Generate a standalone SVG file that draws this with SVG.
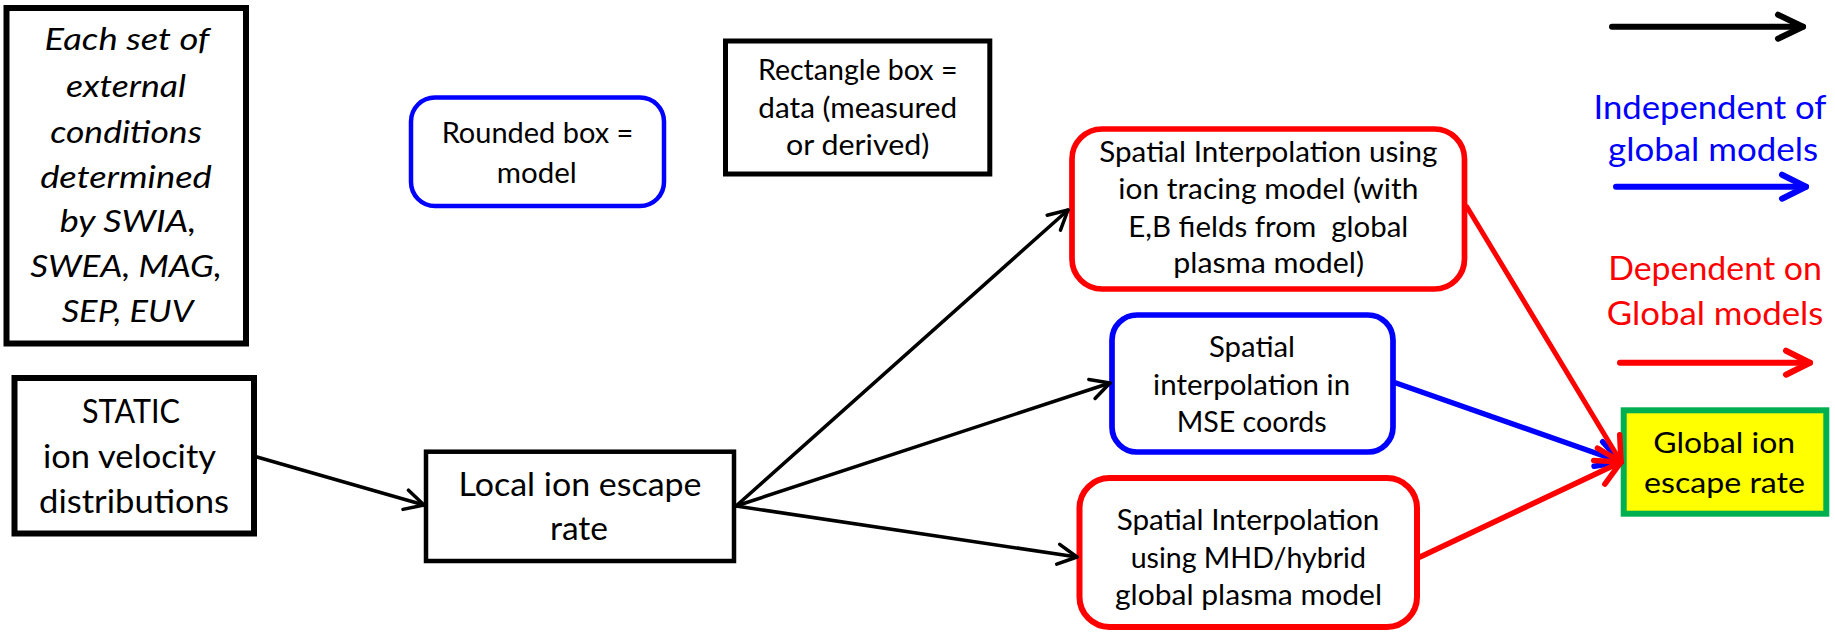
<svg xmlns="http://www.w3.org/2000/svg" width="1835" height="641" viewBox="0 0 1835 641">
<style>
  text { font-family: Lato, "Open Sans", "Liberation Sans", sans-serif; text-anchor: middle; fill: #000; }
  .t28 { font-size: 28px; }
  .t32 { font-size: 32px; }
  .it { font-size: 30px; font-style: italic; }
  .leg { font-size: 32px; }
  .data { fill: #fff; stroke: #000; }
  .conn { fill: none; stroke-linecap: round; }
</style>
<defs>
  <marker id="hk" markerUnits="userSpaceOnUse" orient="auto" refX="0" refY="0" markerWidth="40" markerHeight="40" overflow="visible">
    <path d="M-19,-10 L0,0 L-19,10" fill="none" stroke="#000" stroke-width="3.5" stroke-linecap="round" stroke-linejoin="round"/>
  </marker>
  <marker id="hr" markerUnits="userSpaceOnUse" orient="auto" refX="0" refY="0" markerWidth="40" markerHeight="40" overflow="visible">
    <path d="M-24,-13 L0,0 L-24,13" fill="none" stroke="#f00" stroke-width="5.5" stroke-linecap="round" stroke-linejoin="round"/>
  </marker>
  <marker id="hb" markerUnits="userSpaceOnUse" orient="auto" refX="0" refY="0" markerWidth="40" markerHeight="40" overflow="visible">
    <path d="M-24,-13 L0,0 L-24,13" fill="none" stroke="#00f" stroke-width="5.5" stroke-linecap="round" stroke-linejoin="round"/>
  </marker>
  <marker id="lk" markerUnits="userSpaceOnUse" orient="auto" refX="0" refY="0" markerWidth="40" markerHeight="40" overflow="visible">
    <path d="M-25,-12 L0,0 L-25,12" fill="none" stroke="#000" stroke-width="6" stroke-linecap="round" stroke-linejoin="round"/>
  </marker>
  <marker id="lb" markerUnits="userSpaceOnUse" orient="auto" refX="0" refY="0" markerWidth="40" markerHeight="40" overflow="visible">
    <path d="M-24,-12 L0,0 L-24,12" fill="none" stroke="#00f" stroke-width="6" stroke-linecap="round" stroke-linejoin="round"/>
  </marker>
  <marker id="lr" markerUnits="userSpaceOnUse" orient="auto" refX="0" refY="0" markerWidth="40" markerHeight="40" overflow="visible">
    <path d="M-24,-12 L0,0 L-24,12" fill="none" stroke="#f00" stroke-width="6" stroke-linecap="round" stroke-linejoin="round"/>
  </marker>
</defs>
<rect width="1835" height="641" fill="#fff"/>

<g id="conditions">
  <rect class="data" x="6.5" y="8" width="239.5" height="335.5" stroke-width="6"/>
  <text class="it" x="127" y="50" textLength="165" lengthAdjust="spacingAndGlyphs">Each set of</text>
  <text class="it" x="126" y="96.7" textLength="120" lengthAdjust="spacingAndGlyphs">external</text>
  <text class="it" x="126" y="143.3" textLength="151.7" lengthAdjust="spacingAndGlyphs">conditions</text>
  <text class="it" x="126" y="188.3" textLength="171.7" lengthAdjust="spacingAndGlyphs">determined</text>
  <text class="it" x="128" y="231.7" textLength="136.7" lengthAdjust="spacingAndGlyphs">by SWIA,</text>
  <text class="it" x="126" y="276.7" textLength="191.7" lengthAdjust="spacingAndGlyphs">SWEA, MAG,</text>
  <text class="it" x="127.5" y="321.7" textLength="131.7" lengthAdjust="spacingAndGlyphs">SEP, EUV</text>
</g>

<g id="legend-model">
  <rect x="411" y="97.5" width="253" height="108.5" rx="24" fill="#fff" stroke="#00f" stroke-width="4.5"/>
  <text class="t28" x="537.5" y="143.3" textLength="191.7" lengthAdjust="spacingAndGlyphs">Rounded box =</text>
  <text class="t28" x="536.7" y="182.7" textLength="80" lengthAdjust="spacingAndGlyphs">model</text>
</g>

<g id="legend-data">
  <rect class="data" x="725.5" y="41" width="264.3" height="133" stroke-width="5"/>
  <text class="t28" x="857.7" y="80" textLength="199.5" lengthAdjust="spacingAndGlyphs">Rectangle box =</text>
  <text class="t28" x="857.7" y="117.5" textLength="198.7" lengthAdjust="spacingAndGlyphs">data (measured</text>
  <text class="t28" x="857.7" y="155" textLength="143.3" lengthAdjust="spacingAndGlyphs">or derived)</text>
</g>

<g id="static">
  <rect class="data" x="14.5" y="378" width="239.5" height="155.5" stroke-width="6"/>
  <text class="t32" x="131" y="423.3" textLength="98" lengthAdjust="spacingAndGlyphs">STATIC</text>
  <text class="t32" x="129.5" y="468.3" textLength="173" lengthAdjust="spacingAndGlyphs">ion velocity</text>
  <text class="t32" x="134" y="513.3" textLength="190" lengthAdjust="spacingAndGlyphs">distributions</text>
</g>

<g id="local">
  <rect class="data" x="426" y="451.7" width="308" height="109.3" stroke-width="4.5"/>
  <text class="t32" x="580" y="496" textLength="243" lengthAdjust="spacingAndGlyphs">Local ion escape</text>
  <text class="t32" x="579" y="540" textLength="58" lengthAdjust="spacingAndGlyphs">rate</text>
</g>

<g id="ion-tracing">
  <rect x="1072" y="129" width="392.5" height="160" rx="30" fill="#fff" stroke="#f00" stroke-width="5.7"/>
  <text class="t28" x="1268.3" y="161.7" textLength="338" lengthAdjust="spacingAndGlyphs">Spatial Interpolation using</text>
  <text class="t28" x="1268.3" y="199.3" textLength="300" lengthAdjust="spacingAndGlyphs">ion tracing model (with</text>
  <text class="t28" x="1268.3" y="236.7" textLength="280" lengthAdjust="spacingAndGlyphs" xml:space="preserve">E,B fields from  global</text>
  <text class="t28" x="1268.7" y="273.3" textLength="190.7" lengthAdjust="spacingAndGlyphs">plasma model)</text>
</g>

<g id="mse">
  <rect x="1112" y="315" width="281" height="137" rx="25" fill="#fff" stroke="#00f" stroke-width="5.7"/>
  <text class="t28" x="1252" y="356.7" textLength="86" lengthAdjust="spacingAndGlyphs">Spatial</text>
  <text class="t28" x="1251.6" y="395" textLength="197" lengthAdjust="spacingAndGlyphs">interpolation in</text>
  <text class="t28" x="1251.7" y="431.7" textLength="150" lengthAdjust="spacingAndGlyphs">MSE coords</text>
</g>

<g id="mhd">
  <rect x="1079.5" y="478" width="337.5" height="149" rx="30" fill="#fff" stroke="#f00" stroke-width="6"/>
  <text class="t28" x="1248" y="530" textLength="262.7" lengthAdjust="spacingAndGlyphs">Spatial Interpolation</text>
  <text class="t28" x="1248.3" y="568.3" textLength="235.3" lengthAdjust="spacingAndGlyphs">using MHD/hybrid</text>
  <text class="t28" x="1248.5" y="605" textLength="267" lengthAdjust="spacingAndGlyphs">global plasma model</text>
</g>

<g id="global">
  <rect x="1623.7" y="410.3" width="202.6" height="103.4" fill="#ff0" stroke="#00b050" stroke-width="6"/>
  <text class="t28" x="1724.2" y="452.7" font-size="30" textLength="141.7" lengthAdjust="spacingAndGlyphs">Global ion</text>
  <text class="t28" x="1724.5" y="493.3" font-size="30" textLength="161" lengthAdjust="spacingAndGlyphs">escape rate</text>
</g>

<g id="legend-text">
  <text class="leg" x="1710" y="119" fill="#00f" style="fill:#00f" textLength="233" lengthAdjust="spacingAndGlyphs">Independent of</text>
  <text class="leg" x="1713" y="161" style="fill:#00f" textLength="210" lengthAdjust="spacingAndGlyphs">global models</text>
  <text class="leg" x="1715" y="280" style="fill:#f00" textLength="213.7" lengthAdjust="spacingAndGlyphs">Dependent on</text>
  <text class="leg" x="1715" y="325" style="fill:#f00" textLength="216.6" lengthAdjust="spacingAndGlyphs">Global models</text>
</g>

<g id="connectors">
  <line class="conn" x1="257" y1="457" x2="424" y2="505" stroke="#000" stroke-width="3.5" marker-end="url(#hk)"/>
  <line class="conn" x1="736" y1="506" x2="1068" y2="210" stroke="#000" stroke-width="3.5" marker-end="url(#hk)"/>
  <line class="conn" x1="736" y1="506" x2="1110" y2="383" stroke="#000" stroke-width="3.5" marker-end="url(#hk)"/>
  <line class="conn" x1="736" y1="506" x2="1077" y2="557" stroke="#000" stroke-width="3.5" marker-end="url(#hk)"/>
  <line class="conn" x1="1396" y1="383" x2="1621" y2="462" stroke="#00f" stroke-width="5.5" marker-end="url(#hb)"/>
  <line class="conn" x1="1467" y1="207" x2="1621" y2="462" stroke="#f00" stroke-width="5" marker-end="url(#hr)"/>
  <line class="conn" x1="1420" y1="557" x2="1621" y2="462" stroke="#f00" stroke-width="5.5" marker-end="url(#hr)"/>
  <line class="conn" x1="1612" y1="26.7" x2="1803" y2="26.7" stroke="#000" stroke-width="6" marker-end="url(#lk)"/>
  <line class="conn" x1="1616" y1="186.7" x2="1806" y2="186.7" stroke="#00f" stroke-width="6" marker-end="url(#lb)"/>
  <line class="conn" x1="1620" y1="362.7" x2="1810" y2="362.7" stroke="#f00" stroke-width="6" marker-end="url(#lr)"/>
</g>
</svg>
